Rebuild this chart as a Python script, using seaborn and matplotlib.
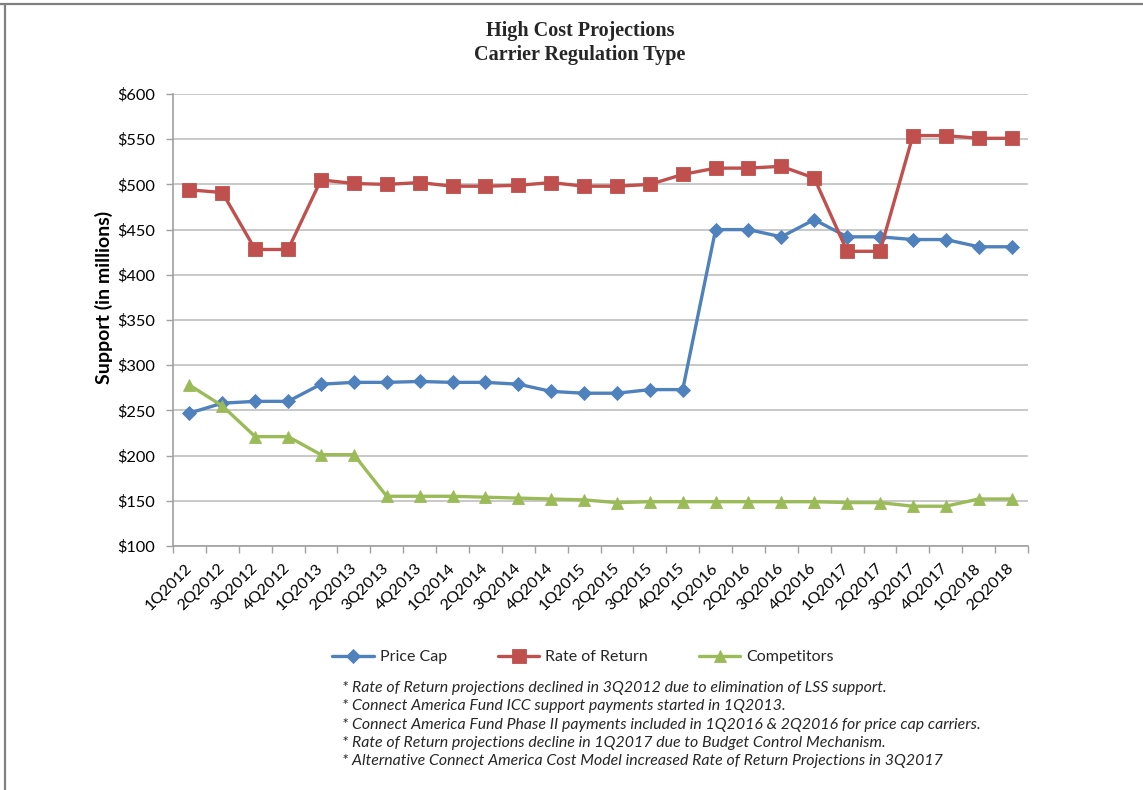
import matplotlib
matplotlib.use("Agg")
import matplotlib.pyplot as plt
from matplotlib.lines import Line2D
from matplotlib.ticker import FixedLocator, FuncFormatter
import numpy as np
import pandas as pd
import seaborn as sns

quarters = ["1Q2012", "2Q2012", "3Q2012", "4Q2012", "1Q2013", "2Q2013", "3Q2013",
            "4Q2013", "1Q2014", "2Q2014", "3Q2014", "4Q2014", "1Q2015", "2Q2015",
            "3Q2015", "4Q2015", "1Q2016", "2Q2016", "3Q2016", "4Q2016", "1Q2017",
            "2Q2017", "3Q2017", "4Q2017", "1Q2018", "2Q2018"]

price_cap = [247, 258, 260, 260, 279, 281, 281, 282, 281, 281, 279, 271, 269,
             269, 273, 273, 450, 450, 442, 461, 442, 442, 439, 439, 431, 431]
rate_of_return = [494, 491, 428, 428, 505, 501, 500, 502, 498, 498, 499, 502, 498,
                  498, 500, 511, 518, 518, 520, 507, 426, 426, 554, 554, 551, 551]
competitors = [278, 255, 221, 221, 201, 201, 155, 155, 155, 154, 153, 152, 151,
               148, 149, 149, 149, 149, 149, 149, 148, 148, 144, 144, 152, 152]

series_names = ["Price Cap", "Rate of Return", "Competitors"]
series_colors = ["#4F81BD", "#C0504D", "#9BBB59"]
series_markers = ["D", "s", "^"]
marker_sizes = [6.8, 9.8, 9.0]

notes = [
    "* Rate of Return projections declined in 3Q2012 due to elimination of LSS support.",
    "* Connect America Fund ICC support payments started in 1Q2013.",
    "* Connect America Fund Phase II payments included in 1Q2016 & 2Q2016 for price cap carriers.",
    "* Rate of Return projections decline in 1Q2017 due to Budget Control Mechanism.",
    "* Alternative Connect America Cost Model increased Rate of Return Projections in 3Q2017",
]

sns.set_theme(style="white")
plt.rcParams["font.family"] = ["Lato", "DejaVu Sans"]

W, H = 1143, 790
fig = plt.figure(figsize=(W / 100, H / 100), dpi=100)
ax = fig.add_axes([173 / W, 1 - 546 / H, (1028 - 173) / W, (546 - 94) / H])

pos = np.arange(len(quarters))
df = pd.DataFrame({
    "pos": np.tile(pos, 3),
    "value": price_cap + rate_of_return + competitors,
    "series": np.repeat(series_names, len(quarters)),
})

for name, col, mk, ms in zip(series_names, series_colors, series_markers, marker_sizes):
    sub = df[df["series"] == name]
    sns.lineplot(data=sub, x="pos", y="value", ax=ax, color=col, marker=mk,
                 markersize=ms, markeredgecolor=col, markeredgewidth=0.6,
                 linewidth=2.4, label=name, zorder=3)

# axes, grid and ticks
ax.set_xlim(-0.5, len(quarters) - 0.5)
ax.set_ylim(100, 600)
ax.set_yticks(np.arange(100, 601, 50))
ax.yaxis.set_major_formatter(FuncFormatter(lambda v, p: f"${int(v)}"))
ax.grid(axis="y", color="#C4C4C4", linewidth=1.3)
ax.grid(axis="x", visible=False)
ax.set_axisbelow(True)

ax.set_xticks(pos)
ax.set_xticklabels(quarters, rotation=45, ha="right", va="center",
                   rotation_mode="anchor")
ax.xaxis.set_minor_locator(FixedLocator(np.arange(-0.5, len(quarters), 1.0)))
ax.tick_params(axis="x", which="major", length=0, pad=14.5, labelsize=11.5,
               labelcolor="#000000")
ax.tick_params(axis="x", which="minor", length=5, width=1, color="#A0A0A0",
               direction="out", bottom=True)
ax.tick_params(axis="y", length=5, width=1, color="#A0A0A0", direction="out",
               left=True, pad=8, labelsize=11.8, labelcolor="#000000")

for side in ["top", "right"]:
    ax.spines[side].set_visible(False)
for side in ["left", "bottom"]:
    ax.spines[side].set_color("#A0A0A0")
    ax.spines[side].set_linewidth(1.2)

ax.set_xlabel("")
ax.set_ylabel("Support (in millions)", fontsize=14, fontweight="bold",
              color="#000000")
ax.yaxis.set_label_coords(104 / W, 1 - 297 / H, transform=fig.transFigure)
ax.yaxis.label.set_va("center")

# title
fig.text(580 / W, 1 - 31 / H, "High Cost Projections", ha="center", va="center",
         fontsize=14.5, fontweight="bold", family="Liberation Serif")
fig.text(580 / W, 1 - 55 / H, "Carrier Regulation Type", ha="center", va="center",
         fontsize=14.5, fontweight="bold", family="Liberation Serif")

# legend
ax.legend(loc="center", bbox_to_anchor=(583 / W, 1 - 657 / H),
          bbox_transform=fig.transFigure, ncol=3, frameon=False, fontsize=11.5,
          handlelength=2.6, handletextpad=0.35, columnspacing=3.2)

# footnotes
for i, line in enumerate(notes):
    fig.text(342 / W, 1 - (688 + 18.3 * i) / H, line, ha="left", va="center",
             fontsize=11.4, style="italic")

# outer frame
fig.add_artist(Line2D([0, 1], [1 - 3.5 / H, 1 - 3.5 / H], transform=fig.transFigure,
                      color="#808080", linewidth=1.6))
fig.add_artist(Line2D([4.5 / W, 4.5 / W], [0, 1 - 3.5 / H], transform=fig.transFigure,
                      color="#808080", linewidth=1.6))

fig.savefig("out.png", dpi=100, facecolor="white")
